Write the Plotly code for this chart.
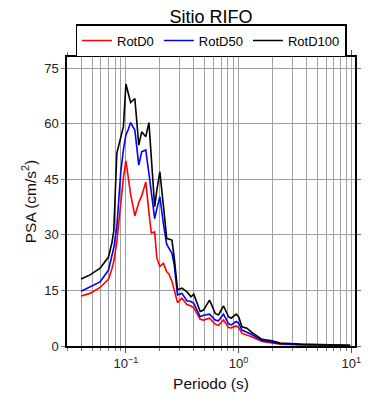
import plotly.graph_objects as go

periods = [0.040, 0.048, 0.059, 0.070, 0.075, 0.078, 0.083, 0.086, 0.090, 0.095,
           0.100, 0.105, 0.110, 0.120, 0.130, 0.138, 0.150, 0.160, 0.168, 0.180,
           0.188, 0.200, 0.215, 0.230, 0.240, 0.256, 0.268, 0.287, 0.314, 0.348,
           0.378, 0.400, 0.456, 0.488, 0.552, 0.620, 0.663, 0.735, 0.814, 0.860,
           0.952, 1.000, 1.070, 1.185, 1.310, 1.610, 1.970, 2.340, 3.520, 5.870, 9.780]

rotd0 = [13.5, 14.2, 15.8, 18.0, 20.8, 22.8, 28.0, 33.0, 38.0, 45.5,
         50.0, 45.5, 41.0, 35.1, 38.7, 40.5, 44.3, 36.0, 30.5, 30.8,
         23.7, 21.5, 22.3, 20.0, 19.5, 17.5, 15.0, 11.7, 12.9, 11.2,
         10.8, 10.3, 7.2, 7.0, 7.5, 5.9, 5.6, 7.0, 5.0, 4.9,
         5.4, 5.0, 3.4, 3.0, 2.5, 1.2, 0.8, 0.5, 0.3, 0.2, 0.1]

rotd50 = [14.8, 15.9, 17.3, 20.5, 24.0, 26.5, 32.0, 40.0, 47.0, 53.0,
          57.0, 58.5, 60.3, 58.3, 48.8, 52.4, 52.9, 46.5, 42.0, 34.4,
          37.0, 40.3, 33.0, 27.5, 26.5, 25.0, 22.0, 13.8, 14.2, 12.2,
          12.0, 11.5, 7.9, 8.3, 8.6, 7.0, 6.8, 8.6, 6.0, 5.7,
          6.6, 6.2, 4.3, 3.8, 3.1, 1.5, 1.1, 0.6, 0.4, 0.25, 0.15]

rotd100 = [18.1, 19.2, 21.0, 24.0, 27.8, 31.0, 52.0, 54.0, 56.0, 59.2,
           70.7, 68.0, 65.7, 66.8, 54.2, 57.8, 56.5, 60.3, 51.0, 37.6,
           42.0, 47.0, 38.0, 29.0, 28.9, 28.6, 24.0, 15.2, 15.6, 14.6,
           13.3, 14.0, 9.3, 9.7, 12.4, 8.8, 8.4, 10.8, 7.9, 7.5,
           8.6, 7.9, 5.2, 4.8, 3.7, 1.8, 1.4, 0.8, 0.5, 0.3, 0.2]

series_names = ["RotD0", "RotD50", "RotD100"]
series_colors = ["#ff0000", "#0000ff", "#000000"]

x_major = [0.1, 1, 10]
x_major_text = ["10<sup>\u22121</sup>", "10<sup>0</sup>", "10<sup>1</sup>"]
x_minor = [m * 10 ** e for e in (-2, -1, 0, 1) for m in range(2, 10)
           if 0.03 <= m * 10 ** e <= 10.8]
y_ticks = [0, 15, 30, 45, 60, 75]

fig = go.Figure()
for name, vals, col in zip(series_names, [rotd0, rotd50, rotd100], series_colors):
    fig.add_trace(go.Scatter(x=periods, y=vals, mode="lines", name=name,
                             line=dict(color=col, width=1.6)))

font = "Liberation Sans, Arial, sans-serif"
fig.update_layout(
    width=390, height=400,
    margin=dict(l=59, r=43, t=49, b=62, autoexpand=False),
    paper_bgcolor="white", plot_bgcolor="white",
    font=dict(family=font, color="#222222", size=13),
    title=dict(text="Sitio RIFO", x=0.5, xanchor="center", xref="paper",
               y=0.993, yanchor="top", pad=dict(t=0),
               font=dict(size=18, color="black")),
    legend=dict(orientation="h", x=0.5, xanchor="center", y=1.0, yanchor="bottom",
                bordercolor="black", borderwidth=1.5, bgcolor="white",
                font=dict(size=13, color="black"), tracegroupgap=0,
                itemwidth=30),
    showlegend=True,
)
fig.update_xaxes(
    type="log", range=[-1.523, 1.033], automargin=False,
    tickvals=x_major, ticktext=x_major_text, ticks="outside", ticklen=5,
    tickcolor="#555555", tickfont=dict(size=13, color="#222222"),
    showgrid=True, gridcolor="#a0a0a0", gridwidth=1,
    minor=dict(tickvals=x_minor, ticks="outside", ticklen=3, tickcolor="#777777",
               showgrid=True, gridcolor="#a0a0a0", gridwidth=1),
    showline=True, linecolor="black", linewidth=1.5, mirror="ticks",
    zeroline=False,
    title=dict(text="Periodo (s)", font=dict(size=15.5, color="#111111"), standoff=8),
)
fig.update_yaxes(
    range=[0, 78], tickvals=y_ticks, ticks="outside", ticklen=4, automargin=False,
    tickcolor="#777777", tickfont=dict(size=13, color="#222222"),
    showgrid=True, gridcolor="#a0a0a0", gridwidth=1,
    showline=True, linecolor="black", linewidth=1.5, mirror="ticks",
    zeroline=False,
    title=dict(text="PSA (cm/s<sup>2</sup>)", font=dict(size=15.5, color="#111111"), standoff=4),
)

fig.write_html("out.html")
